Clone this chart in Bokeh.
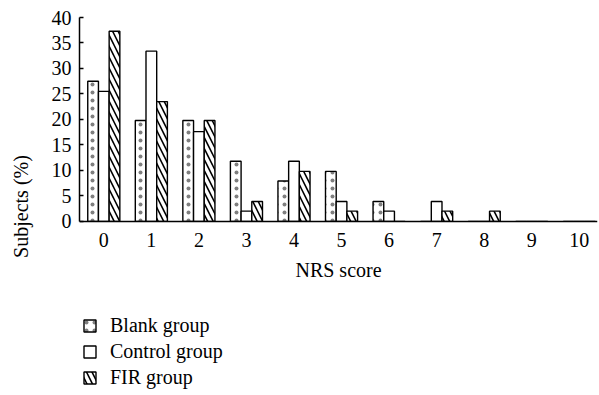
from bokeh.plotting import figure
from bokeh.models import ColumnDataSource, Range1d, FixedTicker, Legend, LegendItem
from bokeh.transform import dodge
from bokeh.embed import file_html
from bokeh.resources import INLINE

# ---- data ----
scores = ["0", "1", "2", "3", "4", "5", "6", "7", "8", "9", "10"]
blank = [27.5, 19.8, 19.8, 11.8, 7.9, 9.8, 3.9, 0, 0, 0, 0]
control = [25.5, 33.4, 17.6, 2.0, 11.8, 3.9, 2.0, 3.9, 0, 0, 0]
fir = [37.3, 23.5, 19.8, 3.9, 9.8, 2.0, 0, 2.0, 2.0, 0, 0]
y_ticks = [0, 5, 10, 15, 20, 25, 30, 35, 40]

FONT = "Liberation Serif"
FS = "20px"

xs = list(range(len(scores)))
src = ColumnDataSource(dict(x=xs, blank=blank, control=control, fir=fir))

# the frame reaches down to the bottom of the canvas so that the legend fits inside it;
# the x axis is pinned at y = 0
p = figure(width=599, height=395, output_backend="svg", toolbar_location=None,
           x_range=Range1d(-0.511, 10.383), y_range=Range1d(-34.18, 40),
           min_border_left=79, min_border_right=2, min_border_top=17, min_border_bottom=0)
p.outline_line_color = None
p.xgrid.visible = False
p.ygrid.visible = False
p.background_fill_color = "white"
p.border_fill_color = "white"

bw = 0.225
r1 = p.vbar(x=dodge("x", -bw, range=p.x_range), top="blank", width=bw, source=src,
            fill_color="white", line_color="black", line_width=1.4,
            hatch_pattern="dot", hatch_color="black", hatch_scale=8, hatch_alpha=0.5)
r2 = p.vbar(x="x", top="control", width=bw, source=src,
            fill_color="white", line_color="black", line_width=1.4)
r3 = p.vbar(x=dodge("x", bw, range=p.x_range), top="fir", width=bw, source=src,
            fill_color="white", line_color="black", line_width=1.4,
            hatch_pattern="left_diagonal_line", hatch_color="black", hatch_scale=11, hatch_weight=1.6)

# axes
xa = p.xaxis[0]
xa.fixed_location = 0
xa.ticker = FixedTicker(ticks=xs)
xa.major_label_overrides = {i: s for i, s in zip(xs, scores)}
xa.major_tick_in = 0
xa.major_tick_out = 0
xa.minor_tick_line_color = None
xa.axis_line_color = "black"
xa.axis_line_width = 1.5
xa.major_label_text_font = FONT
xa.major_label_text_font_size = FS
xa.major_label_text_color = "black"
xa.major_label_standoff = 12
xa.axis_label = "NRS score"
xa.axis_label_text_font = FONT
xa.axis_label_text_font_size = FS
xa.axis_label_text_font_style = "normal"
xa.axis_label_text_color = "black"
xa.axis_label_standoff = 8

ya = p.yaxis[0]
ya.ticker = FixedTicker(ticks=y_ticks)
ya.bounds = (0, 40)
ya.major_tick_in = 4
ya.major_tick_out = 0
ya.major_tick_line_color = "black"
ya.major_tick_line_width = 1.3
ya.minor_tick_line_color = None
ya.axis_line_color = "black"
ya.axis_line_width = 1.5
ya.major_label_text_font = FONT
ya.major_label_text_font_size = FS
ya.major_label_text_color = "black"
ya.major_label_standoff = 8
ya.axis_label = "Subjects (%)"
ya.axis_label_text_font = FONT
ya.axis_label_text_font_size = FS
ya.axis_label_text_font_style = "normal"
ya.axis_label_text_color = "black"
ya.axis_label_standoff = 17

legend = Legend(items=[
    LegendItem(label="Blank group", renderers=[r1]),
    LegendItem(label="Control group", renderers=[r2]),
    LegendItem(label="FIR group", renderers=[r3]),
], location=(3, 5), orientation="vertical",
    glyph_width=15, glyph_height=15, label_height=26, label_standoff=13,
    spacing=0, padding=0, margin=0,
    label_text_font=FONT, label_text_font_size=FS, label_text_color="black",
    border_line_color=None, background_fill_alpha=0)
p.add_layout(legend)

open("out.html", "w").write(file_html(p, INLINE))
